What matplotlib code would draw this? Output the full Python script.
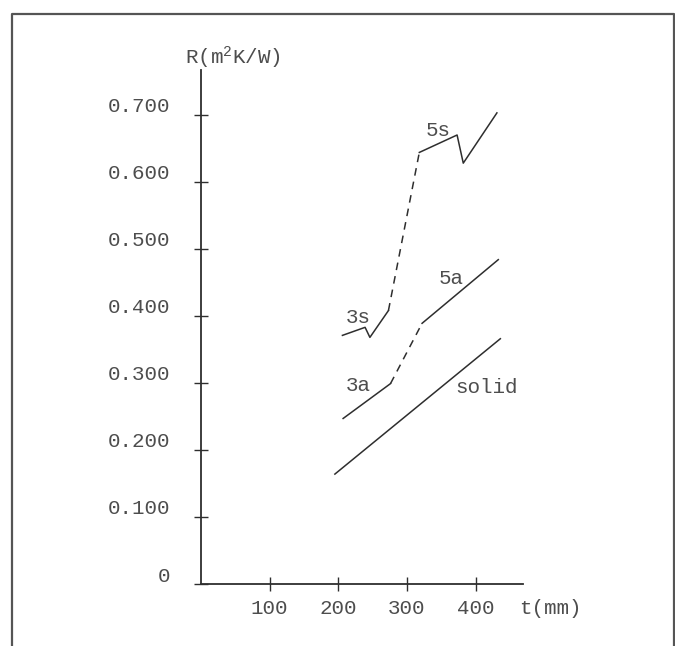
import matplotlib
matplotlib.use("Agg")
import matplotlib.pyplot as plt
import matplotlib.transforms as mtransforms
from matplotlib.lines import Line2D

plt.rcParams['font.family'] = ['Liberation Mono', 'DejaVu Sans Mono']
plt.rcParams['mathtext.fontset'] = 'custom'
plt.rcParams['mathtext.rm'] = 'Liberation Mono'
plt.rcParams['mathtext.it'] = 'Liberation Mono'

# data (t in mm, R in m2K/W)
t_solid = [195, 436]
R_solid = [0.164, 0.366]

t_3a = [207, 276]
R_3a = [0.247, 0.299]
t_5a = [322, 433]
R_5a = [0.389, 0.484]

t_3s = [206, 239, 246, 273]
R_3s = [0.371, 0.383, 0.368, 0.408]
t_5s = [318, 373, 382, 431]
R_5s = [0.644, 0.670, 0.628, 0.703]

labels = ["5s", "5a", "3s", "3a", "solid"]
label_t = [345, 364, 229, 229, 416]
label_R = [0.677, 0.456, 0.398, 0.296, 0.293]

xticks = [100, 200, 300, 400]
yticks = [0, 0.1, 0.2, 0.3, 0.4, 0.5, 0.6, 0.7]
ytick_labels = ["0", "0.100", "0.200", "0.300", "0.400", "0.500", "0.600", "0.700"]

ink = '#2e2e2e'
txt = '#4d4d4d'

fig = plt.figure(figsize=(6.75, 6.46), dpi=100)
ax = fig.add_axes([201 / 675, 1 - 584 / 646, 322 / 675, 514 / 646])

lw = 1.1
ax.plot(t_solid, R_solid, color=ink, lw=lw)
ax.plot(t_3a, R_3a, color=ink, lw=lw)
ax.plot(t_5a, R_5a, color=ink, lw=lw)
ax.plot(t_3s, R_3s, color=ink, lw=lw)
ax.plot(t_5s, R_5s, color=ink, lw=lw)
# dashed links between the 3 and 5 series
ax.plot([t_3a[-1], t_5a[0]], [R_3a[-1], R_5a[0]], color=ink, lw=lw, ls=(0, (5, 4)))
ax.plot([t_3s[-1], t_5s[0]], [R_3s[-1], R_5s[0]], color=ink, lw=lw, ls=(0, (5, 4)))

for s, x, y in zip(labels, label_t, label_R):
  ax.text(x, y, s, fontsize=15, color=txt, ha='center', va='center')

ax.set_xlim(0, 469)
ax.set_ylim(0, 0.767)
for side in ['top', 'right']:
  ax.spines[side].set_visible(False)
for side in ['left', 'bottom']:
  ax.spines[side].set_color(ink)
  ax.spines[side].set_linewidth(1.3)

ax.set_xticks(xticks)
ax.set_xticklabels([str(v) for v in xticks])
ax.set_yticks(yticks)
ax.set_yticklabels(ytick_labels)
ax.tick_params(axis='both', direction='inout', length=10, width=1.0, color=ink,
               labelsize=15, labelcolor=txt)
ax.tick_params(axis='y', pad=17)
ax.tick_params(axis='x', pad=6)

# y labels sit a little above their ticks in the original
shift = mtransforms.ScaledTranslation(0, 0.1, fig.dpi_scale_trans)
for lab in ax.get_yticklabels():
  lab.set_transform(lab.get_transform() + shift)

ax.text(-24, 0.786, "R(m$^2$K/W)", fontsize=15, color=txt, ha='left', va='center',
        clip_on=False)
ax.text(463, -0.037, "t(mm)", fontsize=15, color=txt, ha='left', va='center',
        clip_on=False)

# page frame
fx0, fx1, fy1 = 12 / 675, 674 / 675, 1 - 14 / 646
fig.add_artist(Line2D([fx0, fx0, fx1, fx1], [0, fy1, fy1, 0], color='#555555', lw=1.6))

fig.savefig("out.png", dpi=100)
